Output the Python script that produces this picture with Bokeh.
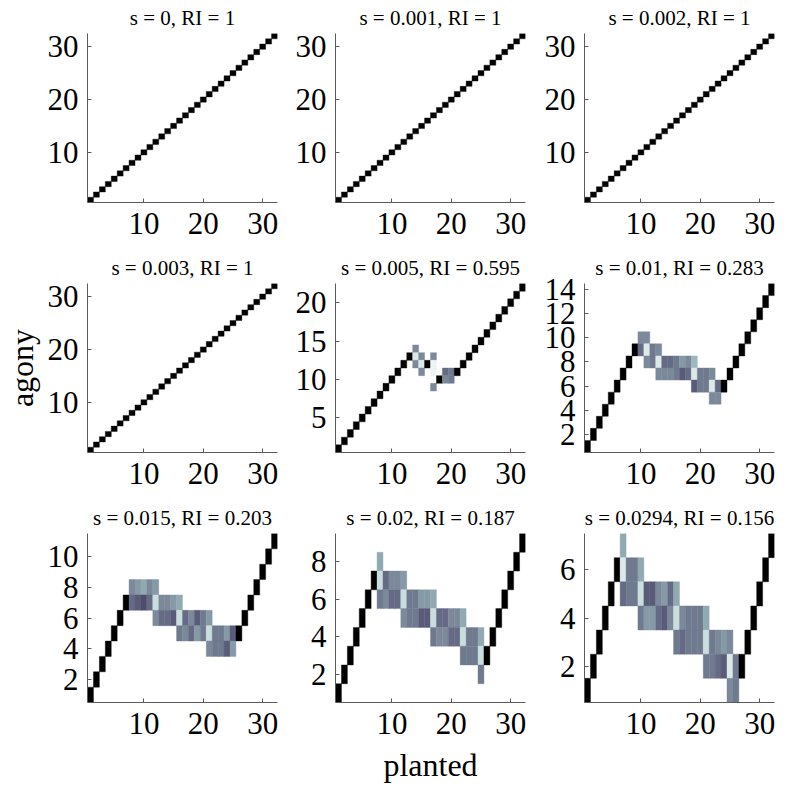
from bokeh.plotting import figure
from bokeh.layouts import gridplot
from bokeh.models import LinearColorMapper, ColumnDataSource, FixedTicker, Range1d
from bokeh.transform import transform
from bokeh.embed import file_html
from bokeh.resources import INLINE

# ---------------- data (planted node -> list of (agony, probability)) ----------------
X_TICKS = [10, 20, 30]
N_PLANTED = 32

TITLES = ["s = 0, RI = 1", "s = 0.001, RI = 1", "s = 0.002, RI = 1",
          "s = 0.003, RI = 1", "s = 0.005, RI = 0.595", "s = 0.01, RI = 0.283",
          "s = 0.015, RI = 0.203", "s = 0.02, RI = 0.187", "s = 0.0294, RI = 0.156"]

Y_MAX = [32, 32, 32, 32, 22, 14, 11, 9, 7]
Y_TICKS = [[10, 20, 30], [10, 20, 30], [10, 20, 30], [10, 20, 30],
           [5, 10, 15, 20], [2, 4, 6, 8, 10, 12, 14], [2, 4, 6, 8, 10],
           [2, 4, 6, 8], [2, 4, 6]]

DIAG = [[(1, 1.0)], [(2, 1.0)], [(3, 1.0)], [(4, 1.0)], [(5, 1.0)], [(6, 1.0)],
        [(7, 1.0)], [(8, 1.0)], [(9, 1.0)], [(10, 1.0)], [(11, 1.0)], [(12, 1.0)],
        [(13, 1.0)], [(14, 1.0)], [(15, 1.0)], [(16, 1.0)], [(17, 1.0)], [(18, 1.0)],
        [(19, 1.0)], [(20, 1.0)], [(21, 1.0)], [(22, 1.0)], [(23, 1.0)], [(24, 1.0)],
        [(25, 1.0)], [(26, 1.0)], [(27, 1.0)], [(28, 1.0)], [(29, 1.0)], [(30, 1.0)],
        [(31, 1.0)], [(32, 1.0)]]

S0005 = [[(1, 1.0)], [(2, 1.0)], [(3, 1.0)], [(4, 1.0)], [(5, 1.0)], [(6, 1.0)],
         [(7, 1.0)], [(8, 1.0)], [(9, 1.0)], [(10, 1.0)], [(11, 1.0)], [(12, 1.0)],
         [(13, 1.0)],
         [(14, .45), (13, .10), (12, .45)],
         [(13, .45), (12, .10), (11, .45)],
         [(12, 1.0)],
         [(13, .45), (12, .05), (11, .05), (9, .45)],
         [(10, 1.0)],
         [(11, .55), (10, .45)],
         [(11, .5), (10, .5)],
         [(11, 1.0)],
         [(12, 1.0)], [(13, 1.0)], [(14, 1.0)], [(15, 1.0)], [(16, 1.0)], [(17, 1.0)],
         [(18, 1.0)], [(19, 1.0)], [(20, 1.0)], [(21, 1.0)], [(22, 1.0)]]

S001 = [[(1, 1.0)], [(2, 1.0)], [(3, 1.0)], [(4, 1.0)], [(5, 1.0)], [(6, 1.0)],
        [(7, 1.0)], [(8, 1.0)], [(9, 1.0)],
        [(10, .45), (9, .55)],
        [(10, .45), (9, .10), (8, .45)],
        [(9, .5), (8, .5)],
        [(9, .45), (8, .10), (7, .45)],
        [(8, .55), (7, .45)],
        [(8, .55), (7, .45)],
        [(8, .5), (7, .5)],
        [(8, .4), (7, .6)],
        [(8, .45), (7, .55)],
        [(8, .3), (7, .1), (6, .6)],
        [(7, .5), (6, .5)],
        [(7, .5), (6, .5)],
        [(7, .45), (6, .1), (5, .45)],
        [(6, .55), (5, .45)],
        [(6, 1.0)],
        [(7, 1.0)], [(8, 1.0)], [(9, 1.0)], [(10, 1.0)], [(11, 1.0)], [(12, 1.0)],
        [(13, 1.0)], [(14, 1.0)]]

S0015 = [[(1, 1.0)], [(2, 1.0)], [(3, 1.0)], [(4, 1.0)], [(5, 1.0)], [(6, 1.0)],
         [(7, 1.0)],
         [(8, .45), (7, .55)],
         [(8, .4), (7, .6)],
         [(8, .35), (7, .65)],
         [(8, .45), (7, .55)],
         [(8, .4), (7, .15), (6, .45)],
         [(7, .45), (6, .55)],
         [(7, .45), (6, .55)],
         [(7, .4), (6, .6)],
         [(7, .35), (6, .15), (5, .5)],
         [(6, .55), (5, .45)],
         [(6, .45), (5, .55)],
         [(6, .6), (5, .4)],
         [(6, .5), (5, .5)],
         [(6, .4), (5, .15), (4, .45)],
         [(5, .5), (4, .5)],
         [(5, .5), (4, .5)],
         [(5, .4), (4, .6)],
         [(5, .6), (4, .4)],
         [(5, 1.0)],
         [(6, 1.0)], [(7, 1.0)], [(8, 1.0)], [(9, 1.0)], [(10, 1.0)], [(11, 1.0)]]

S002 = [[(1, 1.0)], [(2, 1.0)], [(3, 1.0)], [(4, 1.0)], [(5, 1.0)], [(6, 1.0)],
        [(7, 1.0)],
        [(8, .35), (7, .15), (6, .5)],
        [(7, .55), (6, .45)],
        [(7, .45), (6, .55)],
        [(7, .45), (6, .55)],
        [(7, .4), (6, .15), (5, .45)],
        [(6, .5), (5, .5)],
        [(6, .5), (5, .5)],
        [(6, .4), (5, .6)],
        [(6, .4), (5, .6)],
        [(6, .35), (5, .15), (4, .5)],
        [(5, .55), (4, .45)],
        [(5, .55), (4, .45)],
        [(5, .45), (4, .55)],
        [(5, .45), (4, .55)],
        [(5, .35), (4, .15), (3, .5)],
        [(4, .5), (3, .5)],
        [(4, .5), (3, .5)],
        [(4, .35), (3, .15), (2, .5)],
        [(3, 1.0)],
        [(4, 1.0)], [(5, 1.0)], [(6, 1.0)], [(7, 1.0)], [(8, 1.0)], [(9, 1.0)]]

S00294 = [[(1, 1.0)], [(2, 1.0)], [(3, 1.0)], [(4, 1.0)], [(5, 1.0)], [(6, 1.0)],
          [(7, .35), (6, .1), (5, .55)],
          [(6, .5), (5, .5)],
          [(6, .5), (5, .5)],
          [(6, .35), (5, .15), (4, .5)],
          [(5, .6), (4, .4)],
          [(5, .6), (4, .4)],
          [(5, .45), (4, .55)],
          [(5, .4), (4, .6)],
          [(5, .55), (4, .45)],
          [(5, .35), (4, .15), (3, .5)],
          [(4, .45), (3, .55)],
          [(4, .5), (3, .5)],
          [(4, .5), (3, .5)],
          [(4, .5), (3, .5)],
          [(4, .35), (3, .15), (2, .5)],
          [(3, .5), (2, .5)],
          [(3, .45), (2, .55)],
          [(3, .4), (2, .6)],
          [(3, .45), (2, .1), (1, .45)],
          [(2, .5), (1, .5)],
          [(2, 1.0)], [(3, 1.0)], [(4, 1.0)], [(5, 1.0)], [(6, 1.0)], [(7, 1.0)]]

PANELS = [DIAG, DIAG, DIAG, DIAG, S0005, S001, S0015, S002, S00294]

# ---------------- colormap: reversed MATLAB "bone" ----------------
def bone_reversed(n=256):
    pal = []
    for k in range(n):
        t = 1.0 - k / (n - 1)
        hr = min(1.0, t / 0.375)
        hg = min(1.0, max(0.0, (t - 0.375) / 0.375))
        hb = min(1.0, max(0.0, (t - 0.75) / 0.25))
        r = (7 * t + hb) / 8
        g = (7 * t + hg) / 8
        b = (7 * t + hr) / 8
        pal.append("#%02x%02x%02x" % (round(r * 255), round(g * 255), round(b * 255)))
    return pal

mapper = LinearColorMapper(palette=bone_reversed(), low=0, high=1)

FONT = "Liberation Serif"
TICK_SIZE = "31px"
TITLE_SIZE = "21px"
LABEL_SIZE = "32px"
AXIS_COLOR = "#5a5a5a"

LEFT_BORDER = [85, 44, 45]
RIGHT_BORDER = [14, 14, 26]
FRAME_W = 190
FRAME_H = 169


def make_panel(k):
    r, c = divmod(k, 3)
    cols = PANELS[k]
    xs, ys, vs = [], [], []
    for i, cell_list in enumerate(cols, start=1):
        for (a, pr) in cell_list:
            xs.append(i)
            ys.append(a)
            vs.append(pr)
    src = ColumnDataSource(dict(x=xs, y=ys, v=vs))
    p = figure(output_backend="svg", toolbar_location=None,
               x_range=Range1d(0.5, N_PLANTED + 0.5),
               y_range=Range1d(0.5, Y_MAX[k] + 0.5),
               frame_width=FRAME_W, frame_height=FRAME_H,
               min_border_left=LEFT_BORDER[c], min_border_right=RIGHT_BORDER[c],
               min_border_top=33, min_border_bottom=82 if r == 2 else 48)
    p.rect(x="x", y="y", width=1, height=1, source=src,
           fill_color=transform("v", mapper), line_color=transform("v", mapper),
           line_width=0.4)
    p.title.text = TITLES[k]
    p.title.align = "center"
    p.title.text_font = FONT
    p.title.text_font_style = "normal"
    p.title.text_font_size = TITLE_SIZE
    p.title.text_color = "#000000"
    p.title.standoff = 7
    p.grid.visible = False
    p.outline_line_color = None
    p.background_fill_color = "white"
    p.border_fill_color = "white"
    p.xaxis.ticker = FixedTicker(ticks=X_TICKS)
    p.yaxis.ticker = FixedTicker(ticks=Y_TICKS[k])
    for ax in (p.xaxis, p.yaxis):
        ax.major_tick_in = 4
        ax.major_tick_out = 0
        ax.minor_tick_in = 0
        ax.minor_tick_out = 0
        ax.axis_line_color = AXIS_COLOR
        ax.major_tick_line_color = AXIS_COLOR
        ax.major_label_text_font = FONT
        ax.major_label_text_font_size = TICK_SIZE
        ax.major_label_text_color = "#000000"
        ax.axis_label_text_font = FONT
        ax.axis_label_text_font_size = LABEL_SIZE
        ax.axis_label_text_font_style = "normal"
        ax.axis_label_text_color = "#000000"
    p.xaxis.major_label_standoff = 10
    p.yaxis.major_label_standoff = 9
    if r == 1 and c == 0:
        p.yaxis.axis_label = "agony"
        p.yaxis.axis_label_standoff = 5
    if r == 2 and c == 1:
        p.xaxis.axis_label = "planted"
        p.xaxis.axis_label_standoff = 10
    return p


figs = [make_panel(k) for k in range(9)]
grid = gridplot([figs[0:3], figs[3:6], figs[6:9]], toolbar_location=None)

open("out.html", "w").write(file_html(grid, INLINE))
